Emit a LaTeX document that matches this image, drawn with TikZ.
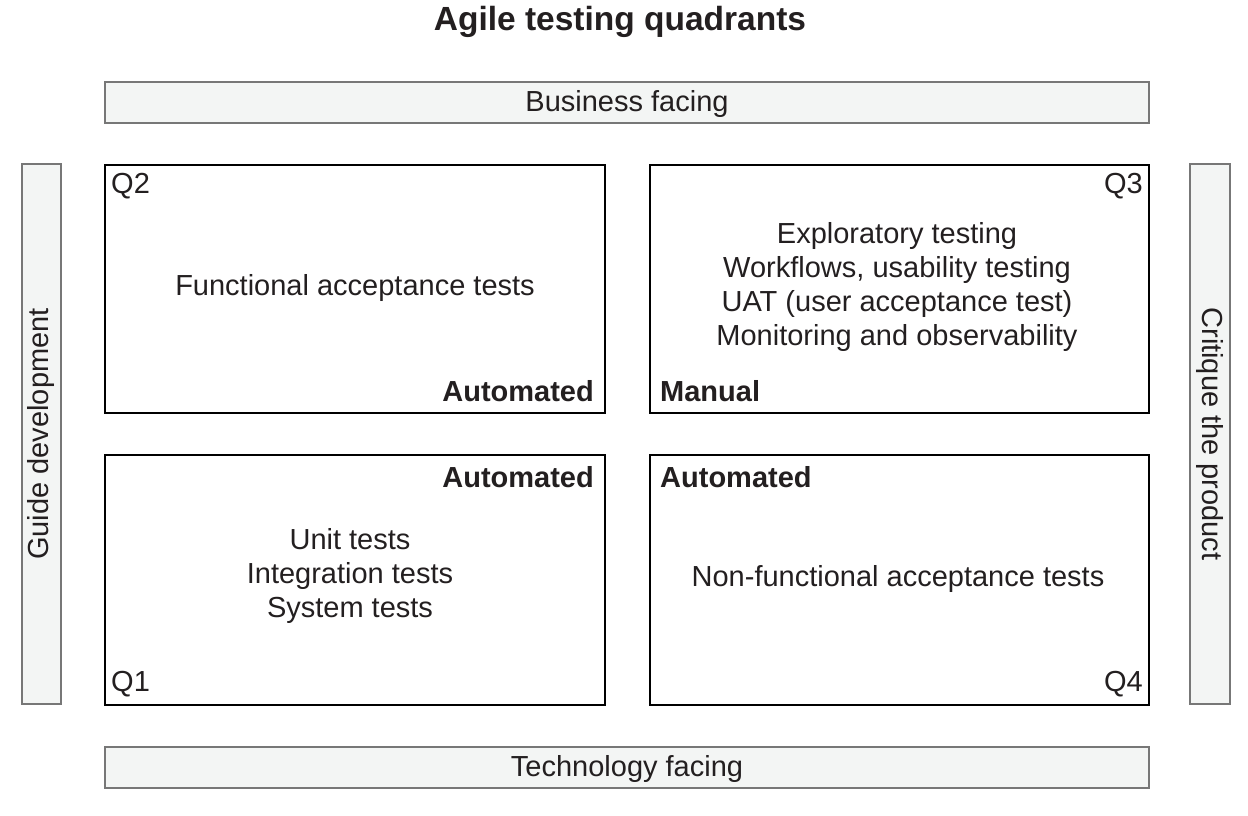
\documentclass[tikz,border=0pt]{standalone}
\usepackage{fontspec}
\setmainfont{Liberation Sans}
\definecolor{barfill}{HTML}{F3F5F4}
\definecolor{bardraw}{HTML}{777777}
\definecolor{ink}{HTML}{231F20}
\begin{document}
\begin{tikzpicture}[x=1pt,y=-1pt,
  txt/.style={font=\fontsize{29}{34.3}\selectfont, text=ink, inner sep=0pt},
  bold/.style={font=\fontsize{29}{34.3}\selectfont\bfseries, text=ink, inner sep=0pt},
  bar/.style={draw=bardraw, fill=barfill, line width=2pt, inner sep=0pt},
  quad/.style={draw=black, line width=2pt, inner sep=0pt}]
\useasboundingbox (0,0) rectangle (1248,815);
\node[font=\fontsize{33.5}{38}\selectfont\bfseries, text=ink] (title) at (620,22) {Agile testing quadrants};
% bars
\node[bar, minimum width=1044pt, minimum height=41pt] (top) at (627,102) {};
\node[txt] at ([yshift=-1.5pt]top.center) {Business facing};
\node[bar, minimum width=1044pt, minimum height=41pt] (bot) at (627,767) {};
\node[txt] at ([yshift=-1.5pt]bot.center) {Technology facing};
\node[bar, minimum width=39pt, minimum height=540pt] (left) at (41.5,434) {};
\node[txt, rotate=90] at (left.center) {Guide development};
\node[bar, minimum width=40pt, minimum height=540pt] (right) at (1210,434) {};
\node[txt, rotate=-90] at (right.center) {Critique the product};
% quadrants
\node[quad, minimum width=500pt, minimum height=248pt] (q2) at (355,289) {};
\node[quad, minimum width=499pt, minimum height=248pt] (q3) at (899.5,289) {};
\node[quad, minimum width=500pt, minimum height=250pt] (q1) at (355,580) {};
\node[quad, minimum width=499pt, minimum height=250pt] (q4) at (899.5,580) {};
% Q2
\node[txt, anchor=west] at ([xshift=7pt,yshift=-22pt]q2.north west) {Q2};
\node[txt] at (355,288) {Functional acceptance tests};
\node[bold, anchor=east] at ([xshift=-12pt,yshift=23pt]q2.south east) {Automated};
% Q3
\node[txt, anchor=east] at ([xshift=-7pt,yshift=-22pt]q3.north east) {Q3};
\node[txt, align=center] at (897,287) {Exploratory testing\\Workflows, usability testing\\UAT (user acceptance test)\\Monitoring and observability};
\node[bold, anchor=west] at ([xshift=11pt,yshift=23pt]q3.south west) {Manual};
% Q1
\node[bold, anchor=east] at ([xshift=-12pt,yshift=-23pt]q1.north east) {Automated};
\node[txt, align=center] at (350,576) {Unit tests\\Integration tests\\System tests};
\node[txt, anchor=west] at ([xshift=7pt,yshift=22pt]q1.south west) {Q1};
% Q4
\node[bold, anchor=west] at ([xshift=11pt,yshift=-23pt]q4.north west) {Automated};
\node[txt] at (898,579) {Non-functional acceptance tests};
\node[txt, anchor=east] at ([xshift=-7pt,yshift=22pt]q4.south east) {Q4};
\end{tikzpicture}
\end{document}
